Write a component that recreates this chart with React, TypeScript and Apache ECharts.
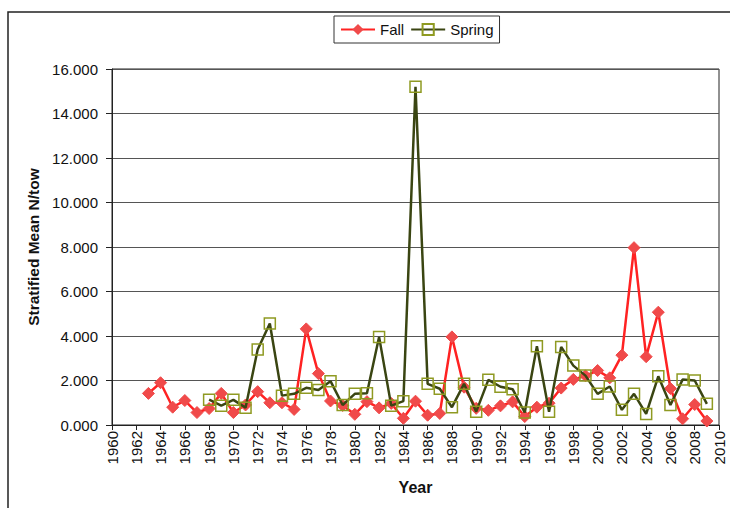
import React, { useEffect, useRef } from "react";
import * as echarts from "echarts";

const fallYears = [1963,1964,1965,1966,1967,1968,1969,1970,1971,1972,1973,1974,1975,1976,1977,1978,1979,1980,1981,1982,1983,1984,1985,1986,1987,1988,1989,1990,1991,1992,1993,1994,1995,1996,1997,1998,1999,2000,2001,2002,2003,2004,2005,2006,2007,2008,2009];
const fallValues = [1.42,1.90,0.80,1.10,0.56,0.74,1.42,0.56,0.90,1.50,1.00,1.00,0.70,4.32,2.31,1.08,0.88,0.48,1.05,0.77,0.97,0.30,1.07,0.44,0.52,3.96,1.70,0.75,0.66,0.86,1.04,0.38,0.80,0.98,1.66,2.05,2.21,2.45,2.12,3.14,7.97,3.07,5.07,1.64,0.28,0.92,0.18];

const springYears = [1968,1969,1970,1971,1972,1973,1974,1975,1976,1977,1978,1979,1980,1981,1982,1983,1984,1985,1986,1987,1988,1989,1990,1991,1992,1993,1994,1995,1996,1997,1998,1999,2000,2001,2002,2003,2004,2005,2006,2007,2008,2009];
const springValues = [1.14,0.87,1.13,0.78,3.39,4.56,1.32,1.40,1.67,1.57,1.97,0.90,1.40,1.43,3.96,0.87,1.07,15.2,1.85,1.63,0.80,1.85,0.60,2.03,1.72,1.61,0.56,3.54,0.60,3.51,2.67,2.22,1.40,1.73,0.68,1.40,0.50,2.19,0.90,2.04,2.00,0.95];

const FONT = "Liberation Sans, Arial, sans-serif";

export default function App() {
  const ref = useRef<HTMLDivElement>(null);
  useEffect(() => {
    if (!ref.current) return;
    const chart = echarts.init(ref.current, null, { renderer: "svg" });
    chart.setOption({
      animation: false,
      backgroundColor: "#ffffff",
      textStyle: { fontFamily: FONT },
      graphic: [
        {
          type: "rect",
          shape: { x: 8, y: 12, width: 900, height: 700 },
          style: { fill: "none", stroke: "#222", lineWidth: 1.5 },
          silent: true,
          z: -1,
        },
      ],
      legend: {
        left: 334,
        top: 16,
        padding: [6, 6, 6, 6],
        itemGap: 6,
        itemWidth: 34,
        itemHeight: 14,
        borderColor: "#333",
        borderWidth: 1,
        textStyle: { fontFamily: FONT, fontSize: 15, color: "#111" },
        data: ["Fall", "Spring"],
      },
      grid: { left: 112, right: 11, top: 69, bottom: 83, show: true, borderColor: "#222", borderWidth: 1 },
      xAxis: {
        type: "value",
        min: 1960,
        max: 2010,
        interval: 2,
        name: "Year",
        nameLocation: "middle",
        nameGap: 54,
        nameTextStyle: { fontFamily: FONT, fontSize: 16, fontWeight: "bold", color: "#111" },
        axisLine: { onZero: false, lineStyle: { color: "#222" } },
        axisTick: { show: true, inside: false, length: 5, lineStyle: { color: "#222" } },
        axisLabel: { rotate: 90, fontFamily: FONT, fontSize: 15, color: "#111", margin: 6, formatter: (v: number) => String(v) },
        splitLine: { show: false },
      },
      yAxis: {
        type: "value",
        min: 0,
        max: 16,
        interval: 2,
        name: "Stratified Mean N/tow",
        nameLocation: "middle",
        nameGap: 70,
        nameTextStyle: { fontFamily: FONT, fontSize: 15.5, fontWeight: "bold", color: "#111" },
        axisLine: { show: true, lineStyle: { color: "#222" } },
        axisTick: { show: true, inside: false, length: 6, lineStyle: { color: "#222" } },
        axisLabel: { fontFamily: FONT, fontSize: 15, color: "#111", margin: 14, formatter: (v: number) => v.toFixed(3) },
        splitLine: { show: true, lineStyle: { color: "#555", width: 1 } },
      },
      series: [
        {
          name: "Fall",
          type: "line",
          data: fallYears.map((y, i) => [y, fallValues[i]]),
          symbol: "diamond",
          symbolSize: 12,
          lineStyle: { color: "#ff2222", width: 2.5 },
          itemStyle: { color: "#f04a4a", borderColor: "#f04a4a" },
          z: 2,
        },
        {
          name: "Spring",
          type: "line",
          data: springYears.map((y, i) => [y, springValues[i]]),
          symbol: "rect",
          symbolSize: 11,
          lineStyle: { color: "#3a4512", width: 2.5 },
          itemStyle: { color: "transparent", borderColor: "#8f9a22", borderWidth: 1.5 },
          z: 3,
        },
      ],
    });
    return () => chart.dispose();
  }, []);
  return <div ref={ref} style={{ width: 730, height: 508, position: "absolute", left: 0, top: 0 }} />;
}
